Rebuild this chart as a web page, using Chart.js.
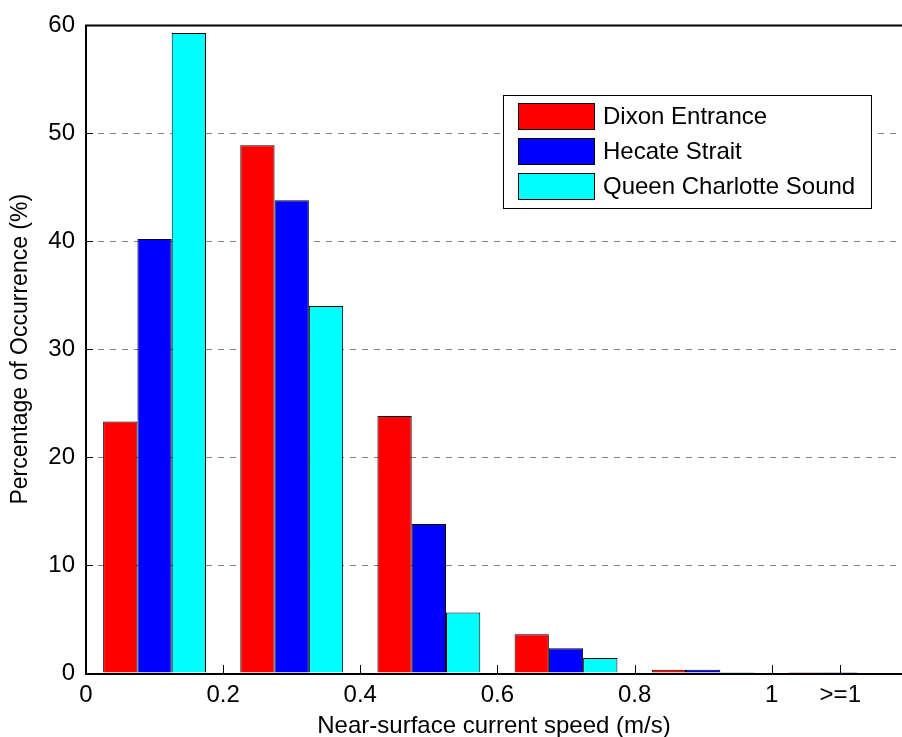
<!DOCTYPE html>
<html>
<head>
<meta charset="utf-8">
<script src="https://cdn.jsdelivr.net/npm/chart.js@4.4.1/dist/chart.umd.min.js"></script>
<style>
  html, body { margin: 0; padding: 0; background: #ffffff; overflow: hidden; }
  canvas { display: block; }
</style>
</head>
<body>
<canvas id="speedChart" width="902" height="737"></canvas>
<script>
// Speed bins: one group of bars per bin, placed at integer positions on the x scale
const binPositions = [1, 2, 3, 4, 5, 6];

// Percentage of occurrence in each speed bin
const dixonEntrance       = [23.3, 48.9, 23.8, 3.6, 0.3, 0.1];
const hecateStrait        = [40.2, 43.8, 13.8, 2.3, 0.3, 0.1];
const queenCharlotteSound = [59.3, 34.0, 5.6, 1.4, 0.1, 0.0];

const seriesNames  = ['Dixon Entrance', 'Hecate Strait', 'Queen Charlotte Sound'];
const seriesColors = ['#ff0000', '#0000ff', '#00ffff'];

// Bin-edge ticks along the speed axis and their labels
const xTickPositions = [0.5, 1.5, 2.5, 3.5, 4.5, 5.5, 6];
const xTickLabels    = ['0', '0.2', '0.4', '0.6', '0.8', '1', '>=1'];
const yTickValues    = [0, 10, 20, 30, 40, 50, 60];

const FONT_FAMILY = '"Liberation Sans", Arial, Helvetica, sans-serif';
const baseFont = { family: FONT_FAMILY, size: 24 };

function toPoints(values) {
  return binPositions.map((x, i) => ({ x: x, y: values[i] }));
}

const seriesValues = [dixonEntrance, hecateStrait, queenCharlotteSound];

// Box outline with inward tick marks, drawn on top of the bars
const axesFrame = {
  id: 'axesFrame',
  afterDatasetsDraw(chart) {
    const { ctx, chartArea } = chart;
    const xs = chart.scales.xt;
    const ys = chart.scales.y;
    ctx.save();
    ctx.strokeStyle = '#000000';

    // inward ticks
    ctx.lineWidth = 1;
    ctx.beginPath();
    xTickPositions.forEach(v => {
      const px = Math.round(xs.getPixelForValue(v)) + 0.5;
      ctx.moveTo(px, chartArea.bottom);
      ctx.lineTo(px, chartArea.bottom - 8);
    });
    yTickValues.forEach(v => {
      const py = Math.round(ys.getPixelForValue(v)) + 0.5;
      ctx.moveTo(chartArea.left, py);
      ctx.lineTo(chartArea.left + 7, py);
    });
    ctx.stroke();

    // frame lines
    ctx.lineWidth = 2;
    ctx.beginPath();
    ctx.moveTo(chartArea.left, chartArea.top);
    ctx.lineTo(chartArea.right + 2, chartArea.top);
    ctx.moveTo(chartArea.left, chartArea.top - 1);
    ctx.lineTo(chartArea.left, chartArea.bottom + 2);
    ctx.moveTo(chartArea.left - 1, chartArea.bottom + 1);
    ctx.lineTo(chartArea.right + 2, chartArea.bottom + 1);
    ctx.stroke();
    ctx.restore();
  }
};

// Boxed legend inside the plot area
const boxedLegend = {
  id: 'boxedLegend',
  afterDraw(chart) {
    const { ctx } = chart;
    const left = 503, top = 95, width = 368, height = 113;
    const rowStep = 35, firstRow = top + 21;
    ctx.save();
    ctx.fillStyle = '#ffffff';
    ctx.fillRect(left, top, width, height);
    ctx.strokeStyle = '#000000';
    ctx.lineWidth = 1;
    ctx.strokeRect(left + 0.5, top + 0.5, width, height);
    ctx.font = '24px ' + FONT_FAMILY;
    ctx.textBaseline = 'middle';
    ctx.textAlign = 'left';
    chart.data.datasets.forEach((ds, i) => {
      const cy = firstRow + i * rowStep;
      ctx.fillStyle = ds.backgroundColor;
      ctx.fillRect(left + 15, cy - 13, 77, 27);
      ctx.strokeStyle = '#000000';
      ctx.strokeRect(left + 15.5, cy - 12.5, 76, 26);
      ctx.fillStyle = '#000000';
      ctx.fillText(ds.label, left + 100, cy + 1);
    });
    ctx.restore();
  }
};

new Chart(document.getElementById('speedChart'), {
  type: 'bar',
  data: {
    datasets: seriesNames.map((name, i) => ({
      label: name,
      data: toPoints(seriesValues[i]),
      backgroundColor: seriesColors[i],
      borderColor: '#000000',
      borderWidth: 1,
      xAxisID: 'x',
      yAxisID: 'y'
    }))
  },
  options: {
    responsive: false,
    devicePixelRatio: 1,
    animation: false,
    layout: { padding: { top: 23, right: 0, bottom: 0, left: 0 } },
    datasets: {
      bar: { categoryPercentage: 0.75, barPercentage: 1.0 }
    },
    plugins: {
      legend: { display: false },
      tooltip: { enabled: false }
    },
    scales: {
      x: {
        type: 'linear',
        display: false,
        offset: false,
        min: 0.5,
        max: 6.45,
        grid: { offset: false },
        afterBuildTicks: s => { s.ticks = binPositions.map(v => ({ value: v })); }
      },
      xt: {
        type: 'linear',
        position: 'bottom',
        offset: false,
        min: 0.5,
        max: 6.45,
        afterBuildTicks: s => { s.ticks = xTickPositions.map(v => ({ value: v })); },
        ticks: {
          callback: (v, i) => xTickLabels[i],
          autoSkip: false,
          maxRotation: 0,
          minRotation: 0,
          padding: 8,
          color: '#000000',
          font: baseFont
        },
        grid: { display: false, drawTicks: false, offset: false },
        border: { display: false },
        title: {
          display: true,
          text: 'Near-surface current speed (m/s)',
          color: '#000000',
          font: { family: FONT_FAMILY, size: 24, lineHeight: 0.9 },
          padding: { top: 0, bottom: 0 }
        },
        afterFit: s => { s.height = 64; }
      },
      y: {
        type: 'linear',
        min: 0,
        max: 60,
        afterBuildTicks: s => { s.ticks = yTickValues.map(v => ({ value: v })); },
        ticks: {
          padding: 11,
          color: '#000000',
          font: baseFont
        },
        grid: { color: '#808080', lineWidth: 1, drawTicks: false },
        border: { display: false, dash: [6, 6] },
        title: {
          display: true,
          text: 'Percentage of Occurrence (%)',
          color: '#000000',
          font: { family: FONT_FAMILY, size: 23, lineHeight: 0.9 },
          padding: { top: 10, bottom: 0 }
        },
        afterFit: s => { s.width = 86; }
      }
    }
  },
  plugins: [axesFrame, boxedLegend]
});
</script>
</body>
</html>
